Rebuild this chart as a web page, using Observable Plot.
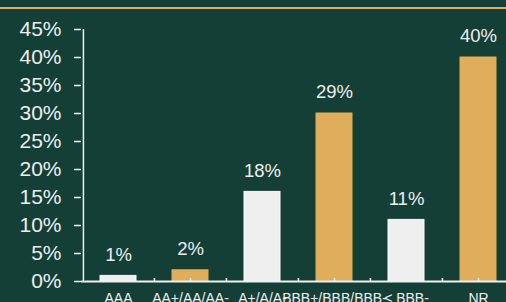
<!DOCTYPE html>
<html><head><meta charset="utf-8">
<script src="https://cdn.jsdelivr.net/npm/d3@7"></script>
<script src="https://cdn.jsdelivr.net/npm/@observablehq/plot@0.6"></script>
<style>
html,body{margin:0;padding:0;background:#133f36;overflow:hidden}
#wrap{position:relative;width:506px;height:302px}
#line{position:absolute;left:0;top:7px;width:506px;height:2px;background:#e0ad5a}
svg{display:block}
</style></head><body><div id="wrap"><div id="line"></div></div>
<script>
const categories = ["AAA", "AA+/AA/AA-", "A+/A/A-", "BBB+/BBB/BBB-", "< BBB-", "NR"];
const values = [1, 2, 16, 30, 11, 40];
const labels = ["1%", "2%", "18%", "29%", "11%", "40%"];
const yTicks = [0, 5, 10, 15, 20, 25, 30, 35, 40, 45];

const white = "#efefef", gold = "#e0ad5a", ink = "#efefef";
const W = 506, H = 302, mL = 81, mR = -8;
const step = (W - mL - mR) / categories.length;
const data = categories.map((c, i) => ({c, v: values[i], l: labels[i], i}));

const chart = Plot.plot({
  width: W, height: H,
  marginLeft: mL, marginRight: mR, marginTop: 29, marginBottom: 21,
  style: {background: "transparent", color: ink, fontFamily: "'Liberation Sans', Arial, sans-serif", overflow: "hidden"},
  x: {domain: categories, paddingInner: 0.5, paddingOuter: 0.25, axis: null, label: null},
  y: {domain: [0, 45], axis: null, label: null},
  marks: [
    Plot.barY(data, {x: "c", y: "v", fill: d => d.i % 2 ? gold : white, stroke: d => d.i % 2 ? gold : "#fafafa", strokeWidth: 1}),
    Plot.text(data, {x: "c", y: "v", text: "l", dy: -21, fontSize: 18.5, fill: ink}),
    Plot.axisY({ticks: yTicks, tickFormat: d => d + "%", tickSize: 7, tickPadding: 13, fontSize: 21, stroke: ink, strokeWidth: 1.5, label: null}),
    Plot.axisX({tickSize: 0, tickPadding: 12, fontSize: 14, fill: ink, label: null}),
    Plot.ruleY([0], {stroke: ink, strokeWidth: 2}),
    Plot.ruleX([categories[0]], {x: d => d, dx: -step / 2 + 1, y1: 0, y2: 45, stroke: ink, strokeWidth: 1.5}),
    Plot.ruleX(categories, {x: d => d, y1: 0, y2: 0, insetTop: -3, stroke: ink, strokeWidth: 1.5}),
    Plot.ruleX(categories.slice(1), {x: d => d, dx: -step / 2, y1: 0, y2: 0, insetTop: -3, stroke: ink, strokeWidth: 1.5})
  ]
});
document.getElementById("wrap").appendChild(chart);
</script>
</body></html>
